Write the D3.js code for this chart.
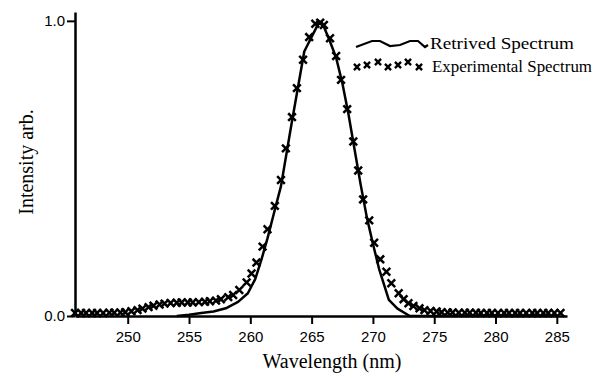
<!DOCTYPE html>
<html>
<head>
<meta charset="utf-8">
<script src="https://cdn.jsdelivr.net/npm/d3@7"></script>
<style>
  html, body { margin: 0; padding: 0; background: #fff; }
  svg { display: block; }
</style>
</head>
<body>
<svg id="chart" width="599" height="378"></svg>
<script>
// experimental spectrum (crosses)
const expWavelength = [245.7, 246.2, 246.6, 247.1, 247.5, 248.0, 248.5, 248.9, 249.4, 249.8,
  250.3, 250.8, 251.2, 251.7, 252.1, 252.6, 253.0, 253.5, 254.0, 254.4, 254.9, 255.3, 255.8,
  256.3, 256.7, 257.2, 257.6, 258.2, 258.6, 259.1, 259.7, 260.1, 260.5, 261.0, 261.4, 262.0,
  262.5, 262.9, 263.4, 263.8, 264.3, 264.8, 265.3, 265.7, 266.0, 266.5, 267.0, 267.4, 267.9,
  268.4, 268.8, 269.2, 269.7, 270.1, 270.6, 271.1, 271.5, 272.1, 272.5, 272.9, 273.3, 273.8,
  274.2, 274.7, 275.2, 275.6, 276.1, 276.5, 277.0, 277.5, 277.9, 278.4, 278.8, 279.3, 279.7,
  280.2, 280.7, 281.1, 281.6, 282.0, 282.5, 283.0, 283.4, 283.9, 284.3, 284.8, 285.3]
const expIntensity = [0.01, 0.01, 0.01, 0.01, 0.01, 0.01, 0.011, 0.011, 0.012, 0.013,
  0.016, 0.02, 0.025, 0.03, 0.035, 0.039, 0.042, 0.044, 0.045, 0.046, 0.046, 0.046, 0.047,
  0.048, 0.05, 0.052, 0.057, 0.064, 0.071, 0.088, 0.114, 0.144, 0.181, 0.235, 0.294, 0.373,
  0.461, 0.568, 0.674, 0.772, 0.868, 0.945, 0.99, 0.994, 0.986, 0.941, 0.881, 0.8, 0.701,
  0.591, 0.493, 0.395, 0.324, 0.248, 0.192, 0.15, 0.111, 0.077, 0.057, 0.043, 0.034, 0.026,
  0.02, 0.017, 0.015, 0.013, 0.012, 0.012, 0.011, 0.011, 0.011, 0.011, 0.01, 0.01, 0.01,
  0.01, 0.01, 0.01, 0.01, 0.01, 0.01, 0.01, 0.01, 0.01, 0.01, 0.01, 0.01]

// retrieved spectrum (solid line)
const retWavelength = [254.0, 255.0, 256.0, 257.0, 258.0, 259.0, 259.8, 260.4, 260.9, 261.4,
  262.0, 262.5, 263.3, 264.4, 265.6, 266.0, 266.5, 267.0, 267.5, 268.0, 268.5, 269.0, 269.5,
  270.0, 270.5, 271.3, 272.0, 273.0, 285.0]
const retIntensity = [0, 0.004, 0.01, 0.015, 0.026, 0.048, 0.077, 0.125, 0.19, 0.263,
  0.36, 0.44, 0.636, 0.896, 0.995, 0.98, 0.93, 0.875, 0.79, 0.685, 0.565, 0.445, 0.335,
  0.245, 0.16, 0.055, 0.025, 0, 0]

const xTicks = [250, 255, 260, 265, 270, 275, 280, 285]
const yTicks = [0, 1]
const legendLabels = ['Retrived Spectrum', 'Experimental Spectrum']

const svg = d3.select('#chart')

const x = d3.scaleLinear().domain([245.7, 285.83]).range([75, 567])
const y = d3.scaleLinear().domain([0, 1.03]).range([316, 12])

const serif = '"Liberation Serif", "Times New Roman", serif'
const sans = '"Liberation Sans", Arial, sans-serif'

// x axis
const xAxis = svg.append('g')
  .attr('transform', 'translate(0,316)')
  .call(d3.axisBottom(x).tickValues(xTicks).tickFormat(d3.format('d')).tickSize(8).tickSizeOuter(0).tickPadding(7))
xAxis.select('.domain').attr('stroke-width', 2.5)
xAxis.selectAll('.tick line').attr('stroke-width', 2)
xAxis.selectAll('.tick text').style('font-family', sans).style('font-size', '15px').attr('fill', '#000')

// y axis
const yAxis = svg.append('g')
  .attr('transform', 'translate(75,0)')
  .call(d3.axisLeft(y).tickValues(yTicks).tickFormat(d3.format('.1f')).tickSize(8).tickSizeOuter(0).tickPadding(2))
yAxis.select('.domain').attr('stroke-width', 2.5)
yAxis.selectAll('.tick line').attr('stroke-width', 2)
yAxis.selectAll('.tick text').style('font-family', sans).style('font-size', '15px').attr('fill', '#000')

// axis titles
svg.append('text')
  .attr('x', 332).attr('y', 368)
  .attr('text-anchor', 'middle')
  .style('font-family', serif).style('font-size', '20px')
  .text('Wavelength (nm)')

svg.append('text')
  .attr('transform', 'translate(33,162) rotate(-90)')
  .attr('text-anchor', 'middle')
  .style('font-family', serif).style('font-size', '20px')
  .text('Intensity arb.')

// retrieved line
const line = d3.line()
  .x((d, i) => x(retWavelength[i]))
  .y((d) => y(d))

svg.append('path')
  .datum(retIntensity)
  .attr('fill', 'none')
  .attr('stroke', '#000')
  .attr('stroke-width', 2.5)
  .attr('stroke-linejoin', 'round')
  .attr('d', line)

// experimental crosses
const cross = d3.symbol(d3.symbolX, 40)

svg.append('g')
  .selectAll('path')
  .data(expIntensity)
  .join('path')
  .attr('transform', (d, i) => `translate(${x(expWavelength[i])},${y(d)})`)
  .attr('d', cross)
  .attr('fill', 'none')
  .attr('stroke', '#000')
  .attr('stroke-width', 2.5)

// legend
const legend = svg.append('g').attr('transform', 'translate(356,0)')

legend.append('path')
  .attr('d', d3.line()([[0, 47], [16, 41], [24, 41], [34, 46], [44, 45], [54, 41], [62, 41], [69, 47], [72, 45]]))
  .attr('fill', 'none')
  .attr('stroke', '#000')
  .attr('stroke-width', 2.2)

legend.selectAll('.lx')
  .data([[1, 67], [11, 65], [22, 62], [32, 67], [42, 65], [52, 62], [63, 67]])
  .join('path')
  .attr('class', 'lx')
  .attr('transform', (d) => `translate(${d[0]},${d[1]})`)
  .attr('d', d3.symbol(d3.symbolX, 26))
  .attr('fill', 'none')
  .attr('stroke', '#000')
  .attr('stroke-width', 2.4)

legend.selectAll('text')
  .data(legendLabels)
  .join('text')
  .attr('x', (d, i) => (i === 0 ? 74 : 76))
  .attr('y', (d, i) => (i === 0 ? 49 : 72))
  .attr('textLength', (d, i) => (i === 0 ? 144 : 160))
  .attr('lengthAdjust', 'spacingAndGlyphs')
  .style('font-family', serif).style('font-size', '17px')
  .text((d) => d)
</script>
</body>
</html>
